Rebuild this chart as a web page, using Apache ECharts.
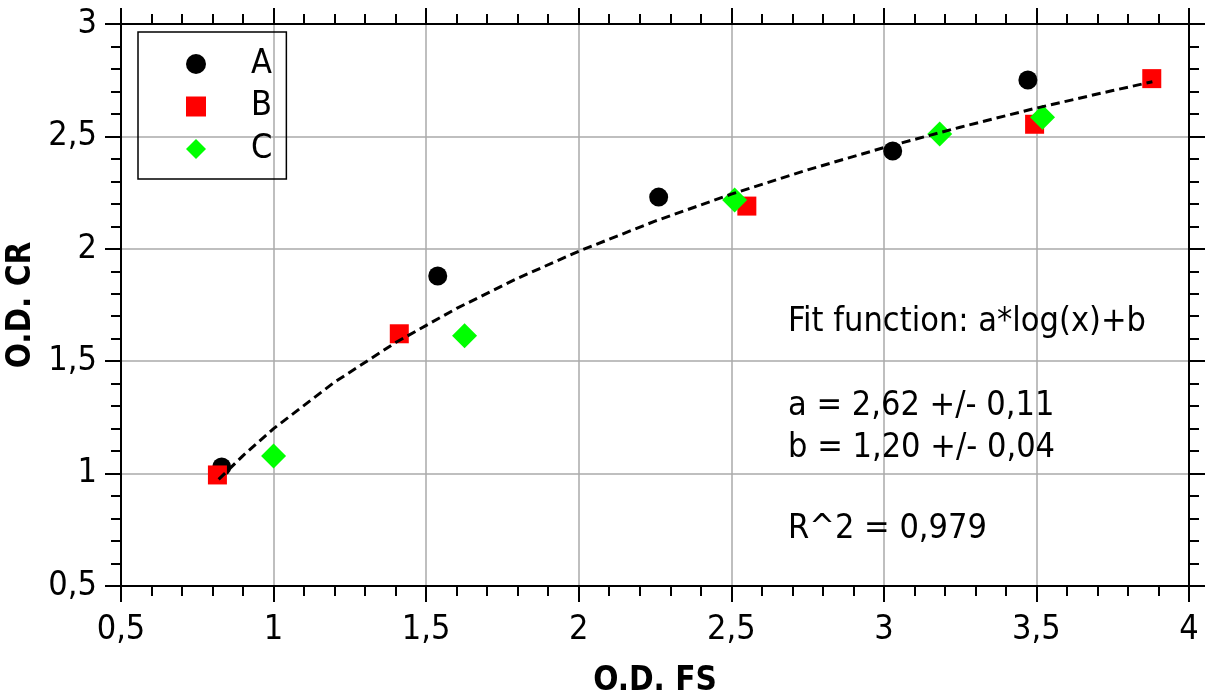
<!DOCTYPE html>
<html>
<head>
<meta charset="utf-8">
<script src="https://cdn.jsdelivr.net/npm/echarts@6/dist/echarts.min.js"></script>
<style>html,body{margin:0;padding:0;background:#fff}#c{width:1208px;height:695px}</style>
</head>
<body>
<div id="c"></div>
<script>
// Series A (black circles)
const xA = [0.830, 1.538, 2.262, 3.029, 3.472];
const yA = [1.029, 1.879, 2.230, 2.435, 2.751];
// Series B (red squares)
const xB = [0.816, 1.412, 2.551, 3.494, 3.878];
const yB = [0.994, 1.622, 2.190, 2.554, 2.757];
// Series C (green diamonds)
const xC = [1.000, 1.626, 2.511, 3.183, 3.520];
const yC = [1.078, 1.613, 2.217, 2.511, 2.585];
// Fit curve points
const fitX = [0.82, 0.9, 1.0, 1.2, 1.4, 1.6, 1.8, 2.0, 2.25, 2.5, 2.75, 3.0, 3.25, 3.5, 3.75, 3.88];
const fitY = [0.974, 1.080, 1.200, 1.407, 1.583, 1.735, 1.869, 1.989, 2.123, 2.243, 2.351, 2.450, 2.541, 2.626, 2.704, 2.743];
const seriesNames = ['A', 'B', 'C'];
const annotations = ['Fit function: a*log(x)+b', 'a = 2,62 +/- 0,11', 'b = 1,20 +/- 0,04', 'R^2 = 0,979'];
const xTitle = 'O.D. FS';
const yTitle = 'O.D. CR';

const FONT = '"DejaVu Sans Condensed", "DejaVu Sans", sans-serif';
const FS = 34;
const pair = (xs, ys) => xs.map((x, i) => [x, ys[i]]);
const fmt = v => String(v).replace('.', ',');

const baseAxis = {
  type: 'value',
  axisLine: { show: true, onZero: false, lineStyle: { color: '#000', width: 2 } },
  axisTick: { show: true, inside: false, length: 16, lineStyle: { color: '#000', width: 2 } },
  minorTick: { show: true, splitNumber: 5, length: 10, lineStyle: { color: '#000', width: 2 } },
  minorSplitLine: { show: false }
};

const chart = echarts.init(document.getElementById('c'), null, { renderer: 'canvas' });
chart.setOption({
  animation: false,
  backgroundColor: '#fff',
  grid: { left: 121, right: 19, top: 24, bottom: 109, containLabel: false, outerBoundsMode: 'none' },
  xAxis: [
    Object.assign({}, baseAxis, {
      position: 'bottom', min: 0.5, max: 4, interval: 0.5,
      name: xTitle, nameLocation: 'middle', nameGap: 79,
      nameTextStyle: { fontFamily: FONT, fontSize: 33, fontWeight: 'bold', color: '#000' },
      axisLabel: { show: true, margin: 27, fontFamily: FONT, fontSize: FS, color: '#000', formatter: fmt },
      splitLine: { show: true, lineStyle: { color: '#aaaaaa', width: 1.5 } }
    }),
    Object.assign({}, baseAxis, {
      position: 'top', min: 0.5, max: 4, interval: 0.5,
      axisLabel: { show: false }, splitLine: { show: false }
    })
  ],
  yAxis: [
    Object.assign({}, baseAxis, {
      position: 'left', min: 0.5, max: 3, interval: 0.5,
      name: yTitle, nameLocation: 'middle', nameGap: 74,
      nameTextStyle: { fontFamily: FONT, fontSize: 33, fontWeight: 'bold', color: '#000' },
      axisLabel: { show: true, margin: 24, fontFamily: FONT, fontSize: FS, color: '#000', formatter: fmt },
      splitLine: { show: true, lineStyle: { color: '#aaaaaa', width: 1.5 } }
    }),
    Object.assign({}, baseAxis, {
      position: 'right', min: 0.5, max: 3, interval: 0.5,
      axisLabel: { show: false }, splitLine: { show: false }
    })
  ],
  legend: {
    orient: 'vertical', left: 138, top: 32,
    padding: [15, 14, 13, 48],
    borderColor: '#000', borderWidth: 1.5,
    itemWidth: 20, itemHeight: 20, itemGap: 8.5,
    data: seriesNames,
    textStyle: { fontFamily: FONT, fontSize: FS, color: '#000', padding: [0, 0, 0, 40] }
  },
  series: [
    { name: seriesNames[0], type: 'scatter', data: pair(xA, yA), symbol: 'circle', symbolSize: 19,
      itemStyle: { color: '#000000', opacity: 1 }, z: 2 },
    { name: seriesNames[1], type: 'scatter', data: pair(xB, yB), symbol: 'rect', symbolSize: 19,
      itemStyle: { color: '#ff0000', opacity: 1 }, z: 3 },
    { name: seriesNames[2], type: 'scatter', data: pair(xC, yC), symbol: 'diamond', symbolSize: 25,
      itemStyle: { color: '#00ff00', opacity: 1 }, z: 4 },
    { name: 'fit', type: 'line', data: pair(fitX, fitY), smooth: false, showSymbol: false, symbol: 'none',
      lineStyle: { color: '#000', width: 3, type: [9, 5] }, z: 5, silent: true }
  ],
  graphic: annotations.map((t, i) => ({
    type: 'text', left: 788, top: [305, 389, 431, 512][i], z: 10,
    style: { text: t, fontFamily: FONT, fontSize: FS, fill: '#000' }
  }))
});
</script>
</body>
</html>
